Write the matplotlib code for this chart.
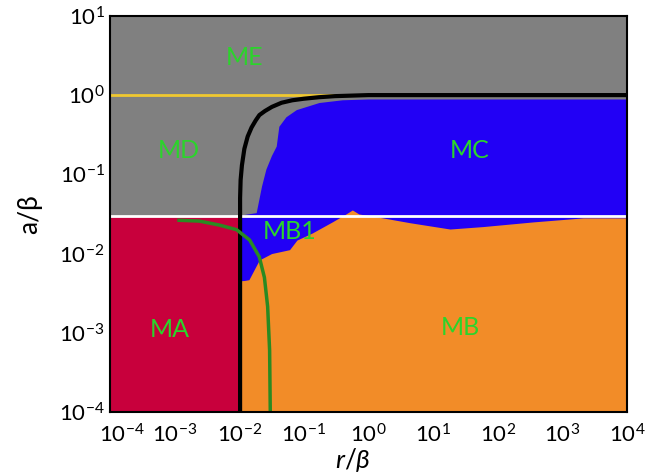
#!/usr/bin/env python3
"""
Phase diagram in the (r/beta, a/beta) plane with regions MA..ME
"""

import numpy as np
import matplotlib
matplotlib.use('Agg')
import matplotlib.pyplot as plt
from matplotlib.transforms import offset_copy

plt.rcParams['font.family'] = ['Lato', 'DejaVu Sans']
plt.rcParams['mathtext.fontset'] = 'custom'
plt.rcParams['mathtext.rm'] = 'Lato'
plt.rcParams['mathtext.it'] = 'Lato:italic'

# Axis ranges / ticks
x_exps = [-4, -3, -2, -1, 0, 1, 2, 3, 4]
y_exps = [-4, -3, -2, -1, 0, 1]

# Horizontal reference lines
a_yellow = 1.0
a_white = 0.03

# Black boundary curve
black_r = [0.0103, 0.0103, 0.0105, 0.0110, 0.0120, 0.0135, 0.0155, 0.0180,
           0.0205, 0.025, 0.032, 0.045, 0.066, 0.10, 0.17, 0.30, 1.0, 1e4]
black_a = [1e-4, 0.05, 0.085, 0.13, 0.21, 0.30, 0.39, 0.48,
           0.56, 0.63, 0.71, 0.80, 0.86, 0.90, 0.94, 0.97, 1.0, 1.0]

# Green boundary curve
green_r = [0.00117, 0.0024, 0.0049, 0.0091, 0.0145, 0.0204, 0.0245, 0.0275,
           0.0295, 0.0302]
green_a = [0.0263, 0.0257, 0.0229, 0.020, 0.0148, 0.0091, 0.0050, 0.00214,
           0.0006, 1e-4]

# Blue region outline (left / top edge)
blue_r = [0.0103, 0.0103, 0.0186, 0.0225, 0.0263, 0.032, 0.038, 0.0417,
          0.0537, 0.0776, 0.174, 0.40, 1.0, 1e4, 1e4]
blue_a = [0.0045, 0.030, 0.0324, 0.07, 0.115, 0.17, 0.224, 0.398,
          0.525, 0.646, 0.794, 0.86, 0.88, 0.88, 0.0045]

# Orange region top boundary
orange_r = [0.0103, 0.0141, 0.0204, 0.0316, 0.060, 0.078, 0.135, 0.275,
            0.447, 0.562, 0.708, 1.66, 4.37, 18.2, 58.9, 355, 2090, 1e4]
orange_a = [0.00447, 0.00468, 0.0083, 0.010, 0.0112, 0.0148, 0.0182, 0.0251,
            0.0316, 0.0355, 0.0316, 0.0282, 0.0245, 0.0204, 0.0219, 0.0251,
            0.0282, 0.0282]

# Red region extent
red_r = [1e-4, 0.0103]
red_top = 0.0295

# Region labels
region_names = ['ME', 'MD', 'MC', 'MB1', 'MA', 'MB']
label_r = [0.012, 0.00117, 37, 0.06, 0.00083, 26]
label_a = [3.0, 0.2, 0.2, 0.019, 0.0011, 0.00117]

gray = '#808080'
blue = '#2200f5'
red = '#c8003c'
orange = '#f28c28'
txt_green = '#2bd42b'

fig = plt.figure(figsize=(6.52, 4.75), dpi=100)
ax = fig.add_axes([0.1687, 0.1326, 0.793, 0.834])
ax.set_xscale('log')
ax.set_yscale('log')
ax.set_xlim(1e-4, 1e4)
ax.set_ylim(1e-4, 1e1)
ax.set_facecolor(gray)

# Regions
ax.fill_between(red_r, 1e-4, red_top, color=red, lw=0, zorder=1)
ax.fill(blue_r, blue_a, color=blue, lw=0, zorder=2)
ax.fill_between(orange_r, 1e-4, orange_a, color=orange, lw=0, zorder=3)

# Lines
ax.axhline(a_yellow, color='#f0c830', lw=2, zorder=4)
ax.axhline(a_white, color='white', lw=2, zorder=4)
ax.plot(black_r, black_a, color='black', lw=3, zorder=5)
ax.plot(green_r, green_a, color='#2a8a22', lw=2.5, zorder=5)

for name, r, a in zip(region_names, label_r, label_a):
    ax.text(r, a, name, color=txt_green, fontsize=18, ha='center',
            va='center', zorder=6)

# Ticks
ax.set_xticks([10.0 ** e for e in x_exps])
ax.set_xticklabels([r'$10^{%d}$' % e for e in x_exps])
ax.set_yticks([10.0 ** e for e in y_exps])
ax.set_yticklabels([r'$10^{%d}$' % e for e in y_exps])
ax.minorticks_off()
ax.tick_params(axis='both', length=0, labelsize=16)
ax.tick_params(axis='x', pad=8)
ax.tick_params(axis='y', pad=4)

# first x label sits a bit to the right in the original
lab0 = ax.get_xticklabels()[0]
lab0.set_transform(offset_copy(lab0.get_transform(), fig=fig, x=12, y=0,
                               units='dots'))

for sp in ax.spines.values():
    sp.set_linewidth(1.5)
    sp.set_zorder(7)

ax.set_xlabel(r'$r/\beta$', fontsize=19, labelpad=0)
ax.xaxis.set_label_coords(0.47, -0.085)
ax.set_ylabel('a/β', fontsize=19, labelpad=12)

plt.savefig('out.png', dpi=100)
plt.close()
